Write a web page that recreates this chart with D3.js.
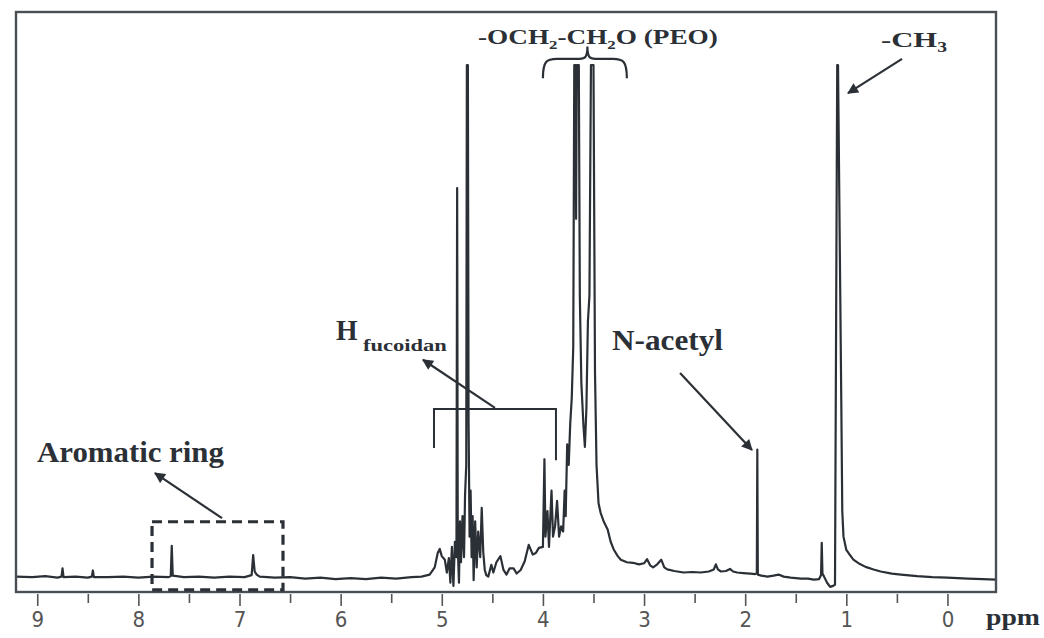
<!DOCTYPE html>
<html>
<head>
<meta charset="utf-8">
<title>1H NMR spectrum</title>
<script src="https://cdn.jsdelivr.net/npm/d3@7/dist/d3.min.js"></script>
<style>
body { margin: 0; background: #fff; }
.lbl { font-family: "Liberation Serif", "Times New Roman", serif; font-weight: bold; fill: #2b3036; }
</style>
</head>
<body>
<svg id="chart" width="1044" height="638"></svg>
<script>
// chemical shift (ppm) and intensity, high -> low ppm
const shift = [
  9.21, 9.05, 8.92, 8.80, 8.76, 8.75, 8.74, 8.62, 8.50, 8.46, 8.45, 8.44, 8.30, 8.15, 8.00,
  7.85, 7.70, 7.68, 7.67, 7.66, 7.55, 7.40, 7.25, 7.10, 6.95, 6.88, 6.865, 6.85, 6.83, 6.80,
  6.65, 6.50, 6.35, 6.20, 6.05, 5.90, 5.75, 5.60, 5.45, 5.30, 5.20, 5.12, 5.07, 5.04, 5.02,
  5.00, 4.97, 4.95, 4.93, 4.915, 4.90, 4.885, 4.87, 4.855, 4.848, 4.842, 4.83, 4.82, 4.81, 4.795,
  4.78, 4.77, 4.758, 4.752, 4.742, 4.735, 4.725, 4.715, 4.705, 4.695, 4.685, 4.67, 4.655, 4.64, 4.62,
  4.605, 4.59, 4.575, 4.56, 4.54, 4.51, 4.49, 4.46, 4.42, 4.39, 4.36, 4.33, 4.29, 4.26, 4.22,
  4.18, 4.14, 4.10, 4.07, 4.04, 4.00, 3.985, 3.975, 3.955, 3.94, 3.915, 3.90, 3.88, 3.86, 3.84,
  3.82, 3.80, 3.785, 3.775, 3.76, 3.745, 3.73, 3.715, 3.70, 3.69, 3.678, 3.672, 3.665, 3.645, 3.635,
  3.62, 3.60, 3.585, 3.57, 3.555, 3.54, 3.525, 3.515, 3.50, 3.485, 3.47, 3.45, 3.43, 3.40, 3.36,
  3.33, 3.30, 3.26, 3.23, 3.17, 3.11, 3.05, 3.00, 2.97, 2.94, 2.91, 2.87, 2.83, 2.80, 2.77,
  2.70, 2.61, 2.52, 2.44, 2.36, 2.31, 2.29, 2.27, 2.24, 2.19, 2.15, 2.12, 2.08, 2.02, 1.95,
  1.90, 1.885, 1.88, 1.875, 1.84, 1.78, 1.72, 1.67, 1.62, 1.55, 1.45, 1.38, 1.32, 1.27, 1.25,
  1.243, 1.236, 1.22, 1.19, 1.16, 1.13, 1.112, 1.09, 1.082, 1.05, 1.04, 1.028, 1.00, 0.96, 0.93,
  0.87, 0.81, 0.73, 0.66, 0.55, 0.46, 0.30, 0.15, 0.00, -0.20, -0.35, -0.48
];
const intensity = [
  0.2, 0.1, 0.3, 0.0, 0.2, 1.8, 0.1, 0.2, 0.0, 0.2, 1.4, 0.1, 0.1, 0.2, 0.0,
  0.2, 0.1, 0.3, 6.2, 0.4, 0.1, 0.2, 0.0, 0.2, 0.1, 0.5, 4.4, 1.2, 0.6, 0.2,
  0.0, 0.1, -0.2, 0.0, -0.3, -0.1, -0.3, 0.0, -0.2, 0.1, 0.2, 0.6, 2.0, 4.8, 5.6,
  4.2, 3.5, 1.0, 3.8, -1.0, 6.0, -1.6, 7.0, 4.0, 76, 6.0, -1.0, 11, 3.0, 12,
  4.0, 16, 22, 100, 100, 30, 8.0, 17, 4.0, 12, -0.5, 11, 2.0, 9.0, 4.0,
  13.6, 5.0, 1.5, 0.5, 0.2, 2.5, 1.0, 3.0, 4.2, 1.5, 0.6, 1.8, 1.8, 0.8, 1.5,
  3.2, 6.4, 4.5, 4.8, 5.8, 6.0, 23.1, 8.0, 13, 6.0, 17, 8.0, 10, 15, 8.0,
  10, 9.0, 17, 12, 26, 22, 30, 35, 45, 100, 100, 70, 100, 100, 55,
  38, 30, 25.5, 33, 50, 55, 100, 100, 100, 40, 22, 14.5, 12.7, 11, 9.4,
  7.0, 5.5, 4.2, 3.5, 3.0, 2.9, 2.6, 2.8, 3.6, 2.4, 2.0, 2.6, 3.5, 2.0, 1.6,
  1.3, 1.0, 1.1, 1.0, 1.2, 1.6, 2.6, 1.6, 1.2, 1.3, 1.7, 1.2, 1.0, 0.9, 0.8,
  0.7, 0.8, 25, 0.6, 0.4, 0.2, 0.4, 0.6, 0.2, 0.0, -0.2, -0.2, -0.4, -0.3, 0.5,
  6.8, 0.8, 0.2, -1.0, -1.8, -1.6, -1.4, 100, 100, 35, 13, 8.0, 5.4, 4.3, 3.5,
  2.7, 2.1, 1.6, 1.2, 0.8, 0.6, 0.3, 0.1, 0.0, -0.2, -0.3, -0.4
];
const majorTicks = [9, 8, 7, 6, 5, 4, 3, 2, 1, 0];
const minorTicks = [8.5, 7.5, 6.5, 5.5, 4.5, 3.5, 2.5, 1.5, 0.5];
const tickLabels = ["9", "8", "7", "6", "5", "4", "3", "2", "1", "0"];

const spectrum = shift.map((s, i) => ({ s: s, v: intensity[i] }));

const svg = d3.select("#chart");
const frame = { left: 16, top: 12, right: 996, bottom: 592 };
const ink = "#2b3036";

const x = d3.scaleLinear().domain([9.21, -0.48]).range([frame.left, frame.right]);
const y = d3.scaleLinear().domain([-2.8, 100]).range([frame.bottom, 65]);

svg.append("defs").append("clipPath").attr("id", "plotclip")
  .append("rect")
  .attr("x", frame.left).attr("y", frame.top)
  .attr("width", frame.right - frame.left).attr("height", frame.bottom - frame.top);

svg.select("defs").append("marker")
  .attr("id", "head")
  .attr("markerUnits", "userSpaceOnUse")
  .attr("viewBox", "0 0 10 10")
  .attr("refX", 9).attr("refY", 5)
  .attr("markerWidth", 13).attr("markerHeight", 11)
  .attr("orient", "auto")
  .append("path").attr("d", "M0,0 L10,5 L0,10 z").attr("fill", ink);

// spectrum trace
const line = d3.line().x(d => x(d.s)).y(d => y(d.v));
svg.append("path")
  .datum(spectrum)
  .attr("clip-path", "url(#plotclip)")
  .attr("fill", "none")
  .attr("stroke", ink)
  .attr("stroke-width", 2.2)
  .attr("stroke-linejoin", "round")
  .attr("d", line);

// frame
svg.append("rect")
  .attr("x", frame.left).attr("y", frame.top)
  .attr("width", frame.right - frame.left).attr("height", frame.bottom - frame.top)
  .attr("fill", "none").attr("stroke", "#4a4f55").attr("stroke-width", 2.4);

// axis
const axisG = svg.append("g").attr("transform", "translate(0," + (frame.bottom + 2) + ")");
axisG.call(d3.axisBottom(x).tickValues(majorTicks).tickSize(12).tickPadding(5)
  .tickFormat((d, i) => tickLabels[i]));
axisG.append("g").call(d3.axisBottom(x).tickValues(minorTicks).tickSize(9).tickFormat(""));
axisG.selectAll(".domain").remove();
axisG.selectAll("line").attr("stroke", "#555").attr("stroke-width", 1.6);
axisG.selectAll("text")
  .attr("fill", "#555")
  .style("font-family", "'Liberation Sans Narrow', 'DejaVu Sans Condensed', 'Liberation Sans', sans-serif")
  .style("font-size", "22px");

// text labels with subscripts, stretched to the width they have in the figure
function label(px, py, parts, size, width) {
  const g = svg.append("g");
  const t = g.append("text").attr("class", "lbl").style("font-size", size + "px");
  let down = 0;
  parts.forEach(p => {
    const sp = t.append("tspan");
    if (typeof p === "string") {
      sp.text(p);
      if (down) { sp.attr("dy", -down); down = 0; }
    } else {
      sp.text(p.sub).style("font-size", p.size + "px").attr("dy", p.dy);
      down = p.dy;
    }
  });
  const bb = t.node().getBBox();
  const sx = width ? width / bb.width : 1;
  g.attr("transform", "translate(" + px + "," + py + ") scale(" + sx + ",1)");
  t.attr("x", -bb.x);
  return g;
}

label(478, 44, ["-OCH", { sub: "2", size: 13, dy: 5 }, "-CH", { sub: "2", size: 13, dy: 5 }, "O (PEO)"], 21, 240);
label(881, 47, ["-CH", { sub: "3", size: 14, dy: 5 }], 22, 66);
label(336, 340, ["H"], 29, 22);
label(363, 351, ["fucoidan"], 16, 84);
label(612, 350, ["N-acetyl"], 29, 111);
label(37, 462, ["Aromatic ring"], 30, 187);
label(986, 625, ["ppm"], 24, 54);

// annotation marks, placed in spectrum coordinates
const ann = svg.append("g").attr("fill", "none").attr("stroke", ink);

// PEO brace
const bx0 = x(4.0), bx1 = x(3.17), bm = x(3.56);
const by0 = y(97.4), by1 = y(101.2), by2 = y(103.6);
ann.append("path").attr("stroke-width", 2.2)
  .attr("d", "M" + bx0 + "," + by0 + " C" + bx0 + "," + (by1 + 2) + " " + (bx0 + 4) + "," + by1 + " " + (bx0 + 14) + "," + by1 +
    " L" + (bm - 8) + "," + by1 + " C" + (bm - 2) + "," + by1 + " " + bm + "," + (by1 - 2) + " " + bm + "," + by2 +
    " C" + bm + "," + (by1 - 2) + " " + (bm + 2) + "," + by1 + " " + (bm + 8) + "," + by1 +
    " L" + (bx1 - 14) + "," + by1 + " C" + (bx1 - 4) + "," + by1 + " " + bx1 + "," + (by1 + 2) + " " + bx1 + "," + by0);

// H fucoidan bracket
ann.append("path").attr("stroke-width", 2)
  .attr("d", "M" + x(5.077) + "," + y(25.3) + " V" + y(32.9) + " H" + x(3.871) + " V" + y(22.9));

// arrows
const arrows = [
  [[0.449, 101.2], [0.983, 94.5]],
  [[4.474, 33.1], [5.186, 42.5]],
  [[2.644, 39.9], [1.933, 24.9]],
  [[7.173, 11.6], [7.836, 20.4]]
];
arrows.forEach(a => {
  ann.append("line")
    .attr("x1", x(a[0][0])).attr("y1", y(a[0][1]))
    .attr("x2", x(a[1][0])).attr("y2", y(a[1][1]))
    .attr("stroke-width", 2.2)
    .attr("marker-end", "url(#head)");
});

// dashed box around aromatic signals
ann.append("rect")
  .attr("x", x(7.865)).attr("y", y(10.9))
  .attr("width", x(6.57) - x(7.865)).attr("height", y(-2.4) - y(10.9))
  .attr("stroke-width", 3.2)
  .attr("stroke-dasharray", "10,6");
</script>
</body>
</html>
